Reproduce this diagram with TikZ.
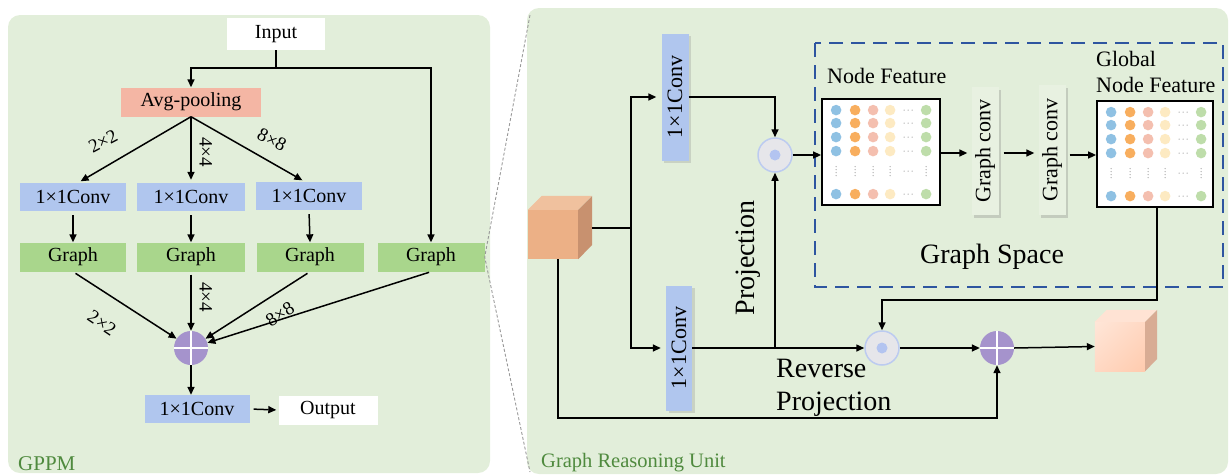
\documentclass[tikz,border=0pt]{standalone}
\usepackage{fontspec}
\setmainfont{Liberation Serif}
\usepackage{graphicx}
\usetikzlibrary{arrows.meta,shadows,shadings,calc}

\definecolor{panelbg}{HTML}{E2EEDA}
\definecolor{convblue}{HTML}{B0C6EE}
\definecolor{graphgreen}{HTML}{A9D68C}
\definecolor{poolred}{HTML}{F4B6A4}
\definecolor{pluspurple}{HTML}{A593CC}
\definecolor{titlegreen}{HTML}{4F8A3E}
\definecolor{spaceblue}{HTML}{2E55A0}
\definecolor{hadfill}{HTML}{E6E6EA}
\definecolor{hadring}{HTML}{BCCBF0}
\definecolor{haddot}{HTML}{B3C4F0}
\definecolor{gcfill}{HTML}{E8F1E1}
\definecolor{mblue}{HTML}{8FC1E3}
\definecolor{morange}{HTML}{F8AE5E}
\definecolor{mpink}{HTML}{F4BFAF}
\definecolor{myellow}{HTML}{FDEAC2}
\definecolor{mgreen}{HTML}{BEDDAA}
\definecolor{cubefront}{HTML}{ECB086}
\definecolor{cubetop}{HTML}{F0C19E}
\definecolor{cubeside}{HTML}{C8916F}
\definecolor{outlight}{HTML}{FFE6D8}
\definecolor{outdeep}{HTML}{FFCBAE}
\definecolor{outmid}{HTML}{FFD8C3}
\definecolor{outtop}{HTML}{FFE3D4}
\definecolor{outside}{HTML}{D8AC94}

% dots of a node-feature matrix, placed from the node's top-left corner
\newcommand\featdots[1]{%
  \begin{scope}[shift={(#1.north west)}]
    \foreach \r in {12,25,39,53,96}{
      \foreach \c/\col in {15/mblue,34/morange,52/mpink,69/myellow,105/mgreen}
        \fill[\col] (\c,\r) circle (5.3pt);
      \foreach \d in {-4,0,4} \fill[gray!70] (87+\d,\r) circle (0.7pt);
    }
    \foreach \c in {15,34,52,69,105}
      \foreach \d in {-4.5,-1.5,1.5,4.5} \fill[gray!70] (\c,73+\d) circle (0.7pt);
    \foreach \d in {-4,0,4} \fill[gray!70] (87+\d,73) circle (0.7pt);
  \end{scope}}

\begin{document}
\begin{tikzpicture}[x=1pt,y=-1pt,
  line/.style={line width=1.5pt,draw=black},
  arr/.style={line,-{Triangle[length=8pt,width=7pt]}},
  panel/.style={fill=panelbg,rounded corners=12pt},
  lbox/.style={inner sep=0pt,minimum height=28pt,font=\fontsize{20}{23}\selectfont},
  convbox/.style={lbox,fill=convblue},
  graphbox/.style={lbox,fill=graphgreen},
  whitebox/.style={lbox,fill=white},
  vconv/.style={inner sep=0pt,fill=convblue,font=\fontsize{22}{26}\selectfont,
    drop shadow={shadow xshift=2.5pt,shadow yshift=-2.5pt,opacity=0.25}},
  gconv/.style={inner sep=0pt,fill=gcfill,font=\fontsize{22}{26}\selectfont,
    drop shadow={shadow xshift=2.5pt,shadow yshift=-2.5pt,opacity=0.3}},
  featmat/.style={draw=black,line width=1.8pt,fill=white,inner sep=0pt},
  plusnode/.style={circle,fill=pluspurple,minimum size=34pt,inner sep=0pt,
    path picture={\draw[white,line width=2pt]
      (path picture bounding box.north) -- (path picture bounding box.south)
      (path picture bounding box.west) -- (path picture bounding box.east);}},
  hadnode/.style={circle,fill=hadfill,draw=hadring,line width=1.5pt,minimum size=34pt,inner sep=0pt,
    path picture={\fill[haddot] (path picture bounding box.center) circle (5.5pt);}},
  smalllab/.style={font=\fontsize{19}{20}\selectfont,inner sep=0pt},
  biglab/.style={font=\fontsize{28}{33}\selectfont,inner sep=0pt},
  midlab/.style={font=\fontsize{22}{26}\selectfont,inner sep=0pt},
  title/.style={font=\fontsize{21}{24}\selectfont,text=titlegreen,inner sep=0pt},
]
\useasboundingbox (0,0) rectangle (1231,475);

% panels
\fill[panel] (8,15) rectangle (490,473);
\fill[panel] (527,8) rectangle (1228,474);

% ---------------- GPPM ----------------
\node[whitebox,minimum width=98pt,minimum height=32pt] (in) at (276,34) {Input};
\coordinate (split) at (276,68);
\node[lbox,fill=poolred,minimum width=140pt,minimum height=29pt] (avg) at (191,102) {Avg-pooling};

\node[convbox,minimum width=106pt] (c1) at (73,197) {1×1Conv};
\node[convbox,minimum width=108pt] (c2) at (191,197) {1×1Conv};
\node[convbox,minimum width=106pt] (c3) at (309,196) {1×1Conv};

\node[graphbox,minimum width=106pt,minimum height=29pt] (g1) at (73,257) {Graph};
\node[graphbox,minimum width=108pt,minimum height=29pt] (g2) at (191,257) {Graph};
\node[graphbox,minimum width=107pt,minimum height=29pt] (g3) at (310,257) {Graph};
\node[graphbox,minimum width=107pt,minimum height=29pt] (g4) at (431,257) {Graph};

\node[plusnode] (p1) at (191,348) {};
\node[convbox,minimum width=105pt] (oc) at (197,409) {1×1Conv};
\node[whitebox,minimum width=99pt,minimum height=29pt] (out) at (328,410) {Output};

\draw[line] (in.south) -- (split);
\draw[arr] (split) -| (avg.north);
\draw[arr] (split) -| (g4.north);

\draw[arr,shorten >=3pt] (avg.south) -- (c1.north -| 78,0);
\draw[arr,shorten >=3pt] (avg.south) -- (c2.north);
\draw[arr,shorten >=3pt] (avg.south) -- (c3.north -| 305,0);

\draw[arr,shorten <=4pt] (c1.south) -- (g1.north);
\draw[arr,shorten <=4pt] (c2.south) -- (g2.north);
\draw[arr,shorten <=4pt] (c3.south) -- (g3.north);

\draw[arr,shorten <=3pt] (g1.south) -- (p1);
\draw[arr,shorten <=3pt] (g2.south) -- (p1.north);
\draw[arr,shorten <=3pt] (g3.south) -- (p1);
\draw[arr,shorten <=2pt] (g4.south) -- (p1);
\draw[arr] (p1.south) -- (p1.south |- oc.north);
\draw[arr,shorten <=4pt,shorten >=2pt] (oc.east) -- (out.west);

\node[smalllab,rotate=28] at (103,141) {2×2};
\node[smalllab,rotate=-90] at (206,152) {4×4};
\node[smalllab,rotate=-27] at (272,140) {8×8};
\node[smalllab,rotate=-34] at (102,323) {2×2};
\node[smalllab,rotate=-90] at (206,297) {4×4};
\node[smalllab,rotate=33] at (280,314) {8×8};

\node[title,anchor=base west] at (18,470) {GPPM};

% link from the fourth graph block to the reasoning unit
\coordinate (zt) at (530,15);
\coordinate (zb) at (530,472);
\draw[gray!80,line width=0.9pt,dash pattern=on 3pt off 2pt] (zt) -- (g4.east) -- (zb);

% ---------------- Graph Reasoning Unit ----------------
% input cube
\node[fill=cubefront,inner sep=0pt,minimum width=50pt,minimum height=49pt] (cube1) at (553,234.5) {};
\fill[cubetop] (cube1.north west) -- ++(14,-14) -- ++(50,0) -- (cube1.north east) -- cycle;
\fill[cubeside] (cube1.north east) -- ++(14,-14) -- ++(0,49) -- (cube1.south east) -- cycle;
\coordinate (cubeout) at (592,228);
\coordinate (fork) at (631,228);

\node[vconv,minimum width=27pt,minimum height=127pt] (ct) at (675,97) {\rotatebox{90}{1×1Conv}};
\node[vconv,minimum width=26pt,minimum height=125pt] (cb) at (679,348) {\rotatebox{90}{1×1Conv}};

\node[hadnode] (h1) at (775,155) {};
\node[hadnode] (h2) at (882,348) {};
\node[plusnode] (p2) at (997,348) {};

% output cube
\node[inner sep=0pt,minimum width=50pt,minimum height=49pt] (cube2) at (1120,346.5) {};
\shade[upper left=outlight,lower right=outdeep,upper right=outmid,lower left=outmid]
  (cube2.south west) rectangle (cube2.north east);
\fill[outtop] (cube2.north west) -- ++(12,-12) -- ++(50,0) -- (cube2.north east) -- cycle;
\fill[outside] (cube2.north east) -- ++(12,-12) -- ++(0,49) -- (cube2.south east) -- cycle;

% graph space
\draw[spaceblue,line width=2.5pt,dash pattern=on 14pt off 8pt] (815,43) rectangle (1223,287);
\node[featmat,minimum width=118pt,minimum height=106pt] (mat1) at (881,152) {};
\node[featmat,minimum width=116pt,minimum height=106pt] (mat2) at (1155,154) {};
\featdots{mat1}
\featdots{mat2}
\node[gconv,minimum width=27pt,minimum height=128pt] (gc1) at (985,151) {\rotatebox{90}{Graph conv}};
\node[gconv,minimum width=27pt,minimum height=130pt] (gc2) at (1052,150) {\rotatebox{90}{Graph conv}};

\node[midlab,anchor=base west] at (827,83) {Node Feature};
\node[midlab,anchor=base west] at (1096,66) {Global};
\node[midlab,anchor=base west] at (1096,92) {Node Feature};
\node[biglab] at (992,257) {Graph Space};

% connectors
\draw[line] (cubeout) -- (fork);
\draw[arr,shorten >=5pt] (fork) |- (ct.west);
\draw[arr,shorten >=5pt] (fork) |- (cb.west);
\draw[arr] (ct.east) -| (h1.north);
\draw[arr] (h1.east) -- (h1.east -| mat1.west);
\draw[arr] (cb.east) -- (h2.west);
\draw[arr] (h1.south |- cb.east) -- (h1.south);
\draw[arr,shorten >=4pt] (mat1.east |- 0,153) -- (gc1.west |- 0,153);
\draw[arr,shorten <=5pt,shorten >=4pt] (gc1.east |- 0,153) -- (gc2.west |- 0,153);
\draw[arr,shorten <=4pt] (gc2.east |- 0,155) -- (mat2.west |- 0,155);
\coordinate (ret) at (1157,300);
\draw[arr] (mat2.south -| ret) -- (ret) -| (h2.north);
\draw[arr] (h2.east) -- (p2.west);
\draw[arr] (p2.east) -- (cube2.west);
\coordinate (skip) at (558,259);
\draw[arr] (skip) -- (558,418) -| (p2.south);

\node[biglab,rotate=90] at (748,258) {Projection};
\node[biglab,anchor=base west,align=left] at (776,377) {Reverse};
\node[biglab,anchor=base west,align=left] at (776,410) {Projection};

\node[title,font=\fontsize{20.5}{24}\selectfont,anchor=base west] at (541,467) {Graph Reasoning Unit};
\end{tikzpicture}
\end{document}
